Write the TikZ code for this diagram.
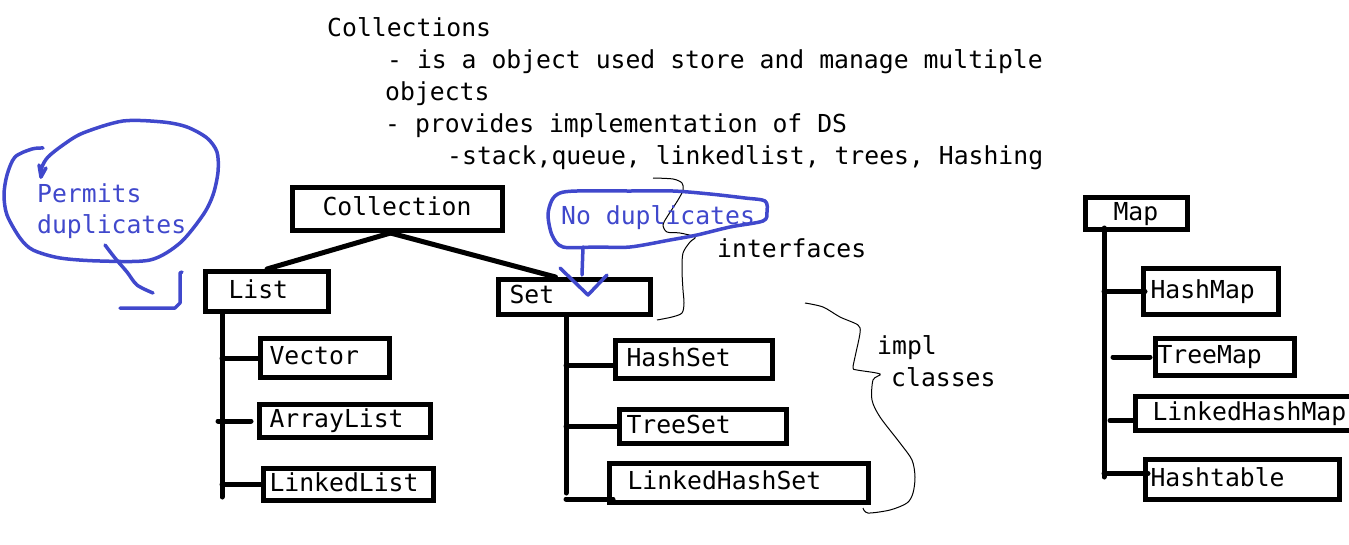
\documentclass[tikz,border=0pt]{standalone}
\usepackage{fontspec}
\setmonofont{DejaVu Sans Mono}
\definecolor{pen}{RGB}{64,72,204}
\tikzset{
  cls/.style={draw, line width=5pt, anchor=north west, inner ysep=0pt, align=left, text height=18pt, text depth=5pt},
  link/.style={line width=5pt, line cap=round},
  note/.style={anchor=base west, inner sep=0pt},
  hand/.style={pen, line width=3.5pt, line cap=round, line join=round},
  brace/.style={line width=1pt}
}
\begin{document}
\begin{tikzpicture}[x=1pt,y=-1pt,font=\ttfamily\fontsize{24.75pt}{32pt}\selectfont]
\useasboundingbox (0,0) rectangle (1349,544);
% header text
\node[note] (head) at (327,36) {Collections};
\node[note] (pa) at (387,68) {- is a object used store and manage multiple};
\node[note] (pb) at (385,100) {objects};
\node[note] (pc) at (385,132) {- provides implementation of DS};
\node[note] (pd) at (447,164) {-stack,queue, linkedlist, trees, Hashing};
% interfaces
\node[cls, minimum height=43pt, inner xsep=30pt, text width=150pt] (coll) at (290,185) {Collection};
\node[cls, minimum height=40pt, inner xsep=23pt, text width=77pt] (list) at (203,269) {List};
\node[cls, minimum height=35pt, inner xsep=11pt, text width=130pt] (set) at (496,277) {Set};
\node[cls, minimum height=32pt, inner xsep=28pt, text width=46pt] (map) at (1083,195) {Map};
% impl classes
\node[cls, minimum height=39pt, inner xsep=9pt, text width=111pt] (vec) at (258,336) {Vector};
\node[cls, minimum height=33pt, inner xsep=10pt, text width=151pt] (alist) at (257,402) {ArrayList};
\node[cls, minimum height=32pt, inner xsep=6pt, text width=158pt] (llist) at (261,466) {LinkedList};
\node[cls, minimum height=38pt, inner xsep=11pt, text width=135pt] (hset) at (613,338) {HashSet};
\node[cls, minimum height=34pt, inner xsep=7pt, text width=153pt] (tset) at (617,407) {TreeSet};
\node[cls, minimum height=39pt, inner xsep=18pt, text width=223pt] (lhset) at (607,461) {LinkedHashSet};
\node[cls, minimum height=46pt, inner xsep=7pt, text width=121pt] (hmap) at (1141,266) {HashMap};
\node[cls, minimum height=37pt, inner xsep=2pt, text width=135pt] (tmap) at (1153,336) {TreeMap};
\node[cls, minimum height=34pt, inner xsep=17pt, text width=200pt] (lhmap) at (1133,394) {LinkedHashMap};
\node[cls, minimum height=40pt, inner xsep=5pt, text width=184pt] (htab) at (1143,457) {Hashtable};
% tree lines
\draw[link] ([xshift=-7pt]coll.south) -- (list.north);
\draw[link] ([xshift=-7pt]coll.south) -- ([xshift=-19pt]set.north);
\coordinate (lbot) at (222,497);
\draw[link] (list.south -| lbot) -- (lbot);
\draw[link] (lbot |- vec.west) -- (vec.west);
\draw[link] ([xshift=-4pt]lbot |- alist.west) -- ([xshift=-6pt]alist.west);
\draw[link] (lbot |- llist.west) -- (llist.west);
\coordinate (sbot) at (566,493);
\draw[link] (set.south -| sbot) -- (sbot);
\draw[link] ([yshift=-6pt]sbot |- hset.west) -- ([yshift=-6pt]hset.west);
\draw[link] (sbot |- tset.west) -- (tset.west);
\draw[link] ([yshift=-16pt]sbot |- lhset.west) -- ([yshift=-16pt,xshift=6pt]lhset.west);
\coordinate (mbot) at (1104,477);
\draw[link] ([yshift=4pt]map.south -| mbot) -- (mbot);
\draw[link] (mbot |- hmap.west) -- ([xshift=4pt]hmap.west);
\draw[link] ([xshift=9pt]mbot |- tmap.west) -- ([xshift=-3pt]tmap.west);
\draw[link] ([xshift=6pt,yshift=-7pt]mbot |- lhmap.west) -- ([yshift=-7pt]lhmap.west);
\draw[link] ([yshift=6pt]mbot |- htab.west) -- ([yshift=6pt,xshift=5pt]htab.west);
% braces
\node[note] (ifc) at (717,257) {interfaces};
\node[note] (impla) at (877,354) {impl};
\node[note] (implb) at (891,386) {classes};
\draw[brace] plot[smooth] coordinates {(653,178) (673,179) (682,183) (683,190) (678,200) (667,217) (663,225) (667,232) (680,233) (695,237) (690,242) (683,253) (682,270) (683,290) (684,303) (682,313) (672,317) (657,320)};
\draw[brace] plot[smooth] coordinates {(805,303) (823,307) (840,317) (858,325) (860,333) (855,357) (853,368) (857,370) (880,374) (873,380) (872,400) (880,417) (900,443) (912,460) (915,477) (913,493) (907,503) (890,510) (868,513) (863,508)};
% blue notes
\node[note, pen] (perm) at (37,202) {Permits};
\node[note, pen] (dup) at (37,233) {duplicates};
\node[note, pen] (nodup) at (561,224) {No duplicates};
\draw[hand] plot[smooth] coordinates {(43,148) (32,149) (15,157) (7,175) (4,195) (7,215) (20,238) (33,250) (60,258) (100,261) (150,260) (180,243) (203,215) (213,195) (218,172) (217,152) (207,138) (187,127) (163,122) (123,121) (83,133) (63,145) (48,157) (42,167) (41,177)};
\draw[hand] (39,165) -- (41,177) -- (46,168);
\draw[hand] plot[smooth] coordinates {(105,245) (115,258) (127,272) (137,285) (153,293)};
\draw[hand] (120,308) -- (175,308) -- (180,303) -- (180,273) -- (182,272);
\draw[hand] plot[smooth cycle] coordinates {(577,191) (630,191) (673,191) (710,194) (745,198) (765,201) (767,212) (763,221) (730,227) (697,235) (670,240) (630,247) (597,247) (563,247) (552,235) (548,215) (552,200) (560,193)};
\draw[hand] (583,247) -- (582,275);
\draw[hand] (560,268) -- (588,295) -- (607,275);
\end{tikzpicture}
\end{document}
